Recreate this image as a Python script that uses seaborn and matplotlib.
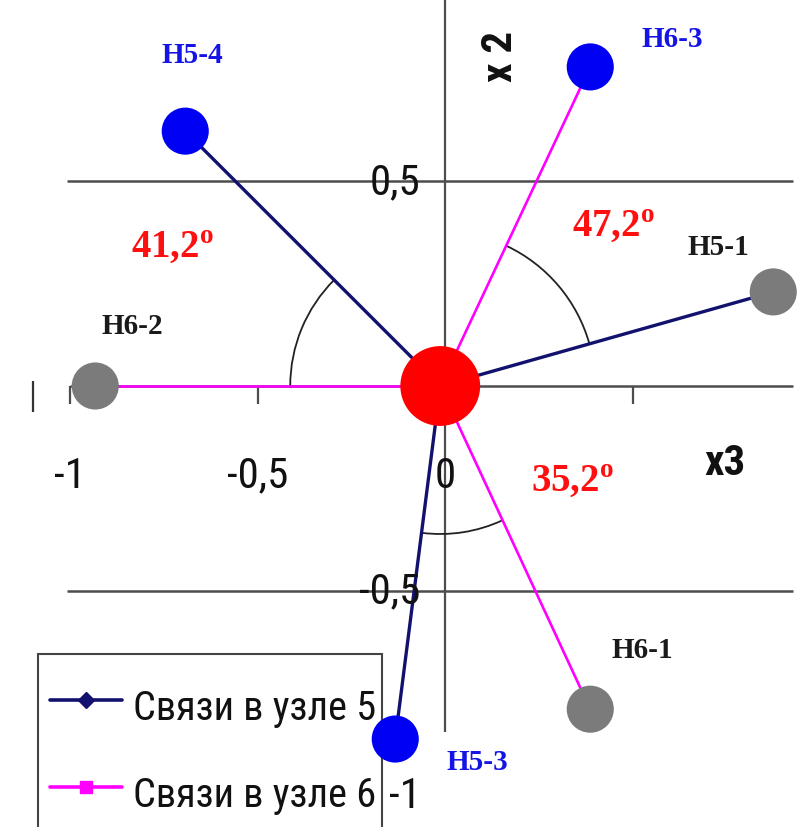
import numpy as np
import pandas as pd
import matplotlib
matplotlib.use("Agg")
import matplotlib.pyplot as plt
from matplotlib.patches import Arc, Rectangle
from matplotlib.lines import Line2D
import seaborn as sns

# Bond end points in the (x3, x2) plane
names = ["H5-1", "H5-3", "H5-4", "H6-1", "H6-2", "H6-3"]
x3 = [0.875, -0.133, -0.693, 0.387, -0.933, 0.387]
x2 = [0.230, -0.863, 0.623, -0.790, 0.000, 0.780]
node = ["Связи в узле 5"] * 3 + ["Связи в узле 6"] * 3
atom_kind = ["gray", "blue", "blue", "gray", "gray", "blue"]

# Central atom
center_x3 = -0.013
center_x2 = 0.0

# Angles between neighbouring bonds
angle_pairs = [("H6-2", "H5-4"), ("H5-1", "H6-3"), ("H5-3", "H6-1")]
angle_values = [41.2, 47.2, 35.2]

x_ticks = [-1, -0.5, 0, 0.5]
x_tick_labels = ["-1", "-0,5", "0", ""]
y_ticks = [0.5, -0.5, -1]
y_tick_labels = ["0,5", "-0,5", "-1"]

sns.set_theme(style="white")
narrow = ["Roboto Condensed", "PT Sans Narrow", "Liberation Sans", "DejaVu Sans"]
serif = ["Liberation Serif", "DejaVu Serif"]
plt.rcParams["font.family"] = narrow
plt.rcParams["mathtext.fontset"] = "custom"
plt.rcParams["mathtext.bf"] = "Liberation Serif:bold"
plt.rcParams["mathtext.rm"] = "Liberation Serif"

W, H, DPI = 798, 828, 100
fig = plt.figure(figsize=(W / DPI, H / DPI), dpi=DPI)
fig.patch.set_facecolor("white")
ax = fig.add_axes([0, 0, 1, 1])
ax.set_xlim(-1.187, 0.941)
ax.set_ylim(-1.078, 0.946)
ax.axis("off")

px_x = W / (0.941 + 1.187)
px_y = H / (0.946 + 1.078)

axis_col = "#4d4d4d"
navy = "#12126e"
magenta = "#ff00ff"
palette = {"Связи в узле 5": navy, "Связи в узле 6": magenta}
line_w = {"Связи в узле 5": 2.4, "Связи в узле 6": 1.9}
marker_col = {"gray": "#7b7b7b", "blue": "#0000f2"}
label_col = {"gray": "#1a1a1a", "blue": "#1414e6"}

# Axes cross, grid lines and ticks
ax.hlines(y_ticks[:2], -1.008, 0.928, color=axis_col, lw=1.8, zorder=1)
ax.hlines(0, -1.0, 0.928, color=axis_col, lw=1.8, zorder=1)
ax.vlines(0, -0.845, 0.946, color=axis_col, lw=1.6, zorder=1)
ax.vlines([t for t in x_ticks if t != 0], -0.045, 0, color=axis_col, lw=1.6, zorder=1)
ax.vlines(-1.099, -0.064, 0.012, color="#333333", lw=1.6, zorder=1)

for t, lab in zip(x_ticks, x_tick_labels):
    ax.text(t, -0.218, lab, ha="center", va="center", fontsize=31, color="#111111", zorder=6)
for t, lab in zip(y_ticks, y_tick_labels):
    ax.text(-0.066, t, lab, ha="right", va="center", fontsize=31, color="#111111", zorder=6)

ax.text(0.747, -0.186, "x3", ha="center", va="center", fontsize=31,
        fontweight="bold", color="#111111")
ax.text(0.147, 0.807, "x 2", ha="center", va="center", fontsize=31,
        fontweight="bold", rotation=90, color="#111111")

# Bonds from the central atom
rows = []
for n, a, b, g in zip(names, x3, x2, node):
    rows.append(dict(bond=n, group=g, x3=center_x3, x2=center_x2))
    rows.append(dict(bond=n, group=g, x3=a, x2=b))
bonds = pd.DataFrame(rows)
for g, sub in bonds.groupby("group"):
    sns.lineplot(data=sub, x="x3", y="x2", units="bond", estimator=None, sort=False,
                 color=palette[g], linewidth=line_w[g], legend=False, ax=ax, zorder=3)

atoms = pd.DataFrame(dict(name=names, x3=x3, x2=x2, kind=atom_kind))
sns.scatterplot(data=atoms, x="x3", y="x2", hue="kind", palette=marker_col,
                s=1150, edgecolor="none", legend=False, ax=ax, zorder=4)
ax.scatter([center_x3], [center_x2], s=3300, color="#ff0000", edgecolor="none", zorder=5)

# Atom labels
offsets = {"H5-1": (-55, 45), "H5-3": (82, -22), "H5-4": (7, 77),
           "H6-1": (52, 60), "H6-2": (37, 60), "H6-3": (82, 28)}
for n, a, b, k in zip(names, x3, x2, atom_kind):
    ax.annotate(n, (a, b), xytext=offsets[n], textcoords="offset pixels",
                ha="center", va="center", fontsize=21, fontweight="bold",
                family=serif, color=label_col[k], zorder=6)

# Angle arcs and their values
lookup = {n: (a, b) for n, a, b in zip(names, x3, x2)}
arc_radius = [150, 155, 148]
text_pos = [(-0.728, 0.340), (0.448, 0.391), (0.339, -0.232)]
for (p, q), val, r, (tx, ty) in zip(angle_pairs, angle_values, arc_radius, text_pos):
    a1 = np.degrees(np.arctan2(lookup[p][1] - center_x2, lookup[p][0] - center_x3))
    a2 = np.degrees(np.arctan2(lookup[q][1] - center_x2, lookup[q][0] - center_x3))
    lo, hi = sorted([a1, a2])
    ax.add_patch(Arc((center_x3, center_x2), 2 * r / px_x, 2 * r / px_y,
                     theta1=lo, theta2=hi, color="#222222", lw=1.3, zorder=2))
    ax.text(tx, ty, f"{val:.1f}".replace(".", ",") + r"$^{\mathbf{o}}$",
            ha="center", va="center", fontsize=28, fontweight="bold",
            family=serif, color="#ff1010", zorder=6)

# Legend: framed box running off the lower edge, entries on top of it
box = Rectangle((38 / W, -0.1), (382 - 38) / W, 1 - 655 / H + 0.1,
                transform=fig.transFigure, facecolor="white", edgecolor="#444444",
                lw=1.5, zorder=3.5)
ax.add_patch(box)
handles = [
    Line2D([], [], color=navy, lw=2.6, marker="D", markersize=8,
           markerfacecolor=navy, markeredgecolor=navy),
    Line2D([], [], color=magenta, lw=2.6, marker="s", markersize=9,
           markerfacecolor=magenta, markeredgecolor=magenta),
]
leg = ax.legend(handles, list(palette.keys()), loc="upper left",
                bbox_to_anchor=(36 / W, 1 - 668 / H), bbox_transform=fig.transFigure,
                borderaxespad=0, fontsize=29, frameon=False, borderpad=0.35,
                handlelength=1.79, handletextpad=0.27, handleheight=1.5,
                labelspacing=0.95)
leg.set_zorder(3.6)
for t in leg.get_texts():
    t.set_color("#111111")

fig.savefig("out.png", dpi=DPI, facecolor="white")
